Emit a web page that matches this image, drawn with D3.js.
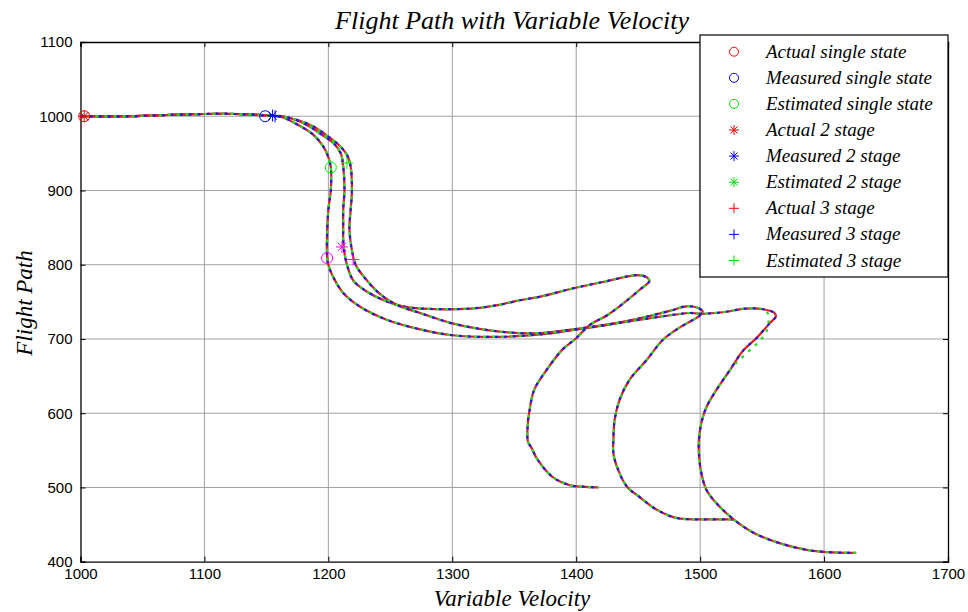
<!DOCTYPE html>
<html>
<head>
<meta charset="utf-8">
<script src="https://cdn.jsdelivr.net/npm/d3@7"></script>
<style>
  body { margin: 0; background: #fff; }
  svg { display: block; }
</style>
</head>
<body>
<svg id="chart" width="968" height="612"></svg>
<script>
// ---- axis ticks ----
const xTicks = [1000, 1100, 1200, 1300, 1400, 1500, 1600, 1700];
const yTicks = [400, 500, 600, 700, 800, 900, 1000, 1100];

// ---- trajectories (velocity, flight path) ----
const singleX = [1000,1040,1075,1100,1125,1150,1162,1177,1188,1196,1200,1202,1202,1200,1199,1199,1200,1204,1212,1226,1247,1274,1300,1341,1381,1397,1425,1452,1478,1489,1498,1502,1500,1484,1470,1457,1443,1435,1431,1430,1430,1434,1441,1452,1463,1475,1484,1505,1527];
const singleY = [1000,1000,1002,1003,1003,1001,999,987,975,959,945,931,901,874,843,810,800,783,762,743,726,713,705,703,708,712,719,728,739,744,742,737,732,716,699,672,645,618,591,564,546,523,501,486,472,462,458,457,457];

const stage2X = [1000,1040,1075,1100,1125,1150,1166,1183,1193,1204,1210,1212,1213,1212,1212,1212,1213,1215,1220,1230,1245,1260,1275,1315,1338,1354,1371,1397,1425,1449,1457,1459,1451,1438,1425,1411,1400,1389,1376,1366,1362,1361,1361,1364,1369,1381,1395,1405,1418];
const stage2Y = [1000,1000,1002,1003,1003,1001,999,988,977,964,950,932,901,874,851,833,816,800,779,765,752,744,741,741,746,752,757,768,778,786,783,778,766,748,732,719,701,686,658,631,600,587,562,553,537,514,503,501,500];

const stage3X = [1000,1040,1075,1100,1125,1150,1168,1186,1198,1208,1215,1218,1219,1218,1217,1218,1219,1222,1231,1242,1255,1274,1300,1338,1371,1411,1452,1492,1500,1518,1537,1551,1560,1561,1556,1546,1535,1524,1513,1505,1501,1499,1499,1501,1505,1513,1527,1543,1564,1586,1602,1626];
const stage3Y = [1000,1000,1002,1003,1003,1001,998,988,975,962,948,932,900,874,850,830,820,800,779,760,746,735,721,710,708,716,726,735,734,736,741,740,735,730,721,702,685,658,631,608,587,564,546,519,497,479,457,439,425,416,413,412];

// estimated 3 stage path drifts off near the turn at ~1560
const stage3EstX = [1000,1040,1075,1100,1125,1150,1168,1186,1198,1208,1215,1218,1219,1218,1217,1218,1219,1222,1231,1242,1255,1274,1300,1338,1371,1411,1452,1492,1500,1518,1537,1551,1555,1555,1553,1546,1537,1526,1513,1505,1501,1499,1499,1501,1505,1513,1527,1543,1564,1586,1602,1626];
const stage3EstY = [1000,1000,1002,1003,1003,1001,998,988,975,962,948,932,900,874,850,830,820,800,779,760,746,735,721,710,708,716,726,735,734,736,741,740,733,721,708,694,680,662,631,608,587,564,546,519,497,479,457,439,425,416,413,412];

// ---- start markers ----
const markX     = [1003, 1003, 1149, 1155, 1157, 1202, 1215, 1199, 1211, 1220];
const markY     = [1000, 1000, 1000, 1001, 1000, 931, 937, 809, 824, 807];
const markKind  = ['o', '*', 'o', '*', '+', 'o', '+', 'o', '*', '+'];
const markColor = ['#ff0000', '#ff0000', '#0000ff', '#0000ff', '#0000ff', '#00ee00', '#00ee00', '#ff00ff', '#ff00ff', '#ff00ff'];

// ---- legend ----
const legendLabels = ['Actual single state', 'Measured single state', 'Estimated single state',
                      'Actual 2 stage', 'Measured 2 stage', 'Estimated 2 stage',
                      'Actual 3 stage', 'Measured 3 stage', 'Estimated 3 stage'];
const legendKinds  = ['o', 'o', 'o', '*', '*', '*', '+', '+', '+'];
const legendColors = ['#ff0000', '#0000ff', '#00dd00', '#ff0000', '#0000ff', '#00dd00', '#ff0000', '#0000ff', '#00dd00'];

// ---- layout ----
const svg = d3.select('#chart');
const plotL = 80.5, plotR = 948, plotT = 42, plotB = 561.7;
const x = d3.scaleLinear().domain([1000, 1700]).range([plotL, plotR]);
const y = d3.scaleLinear().domain([400, 1100]).range([plotB, plotT]);

svg.append('rect').attr('width', 968).attr('height', 612).attr('fill', '#fff');

// grid
const grid = svg.append('g').attr('stroke', '#a0a0a0').attr('stroke-width', 1);
grid.selectAll('line.gx').data(xTicks.slice(1, -1)).join('line')
  .attr('x1', d => x(d)).attr('x2', d => x(d)).attr('y1', plotT).attr('y2', plotB);
grid.selectAll('line.gy').data(yTicks.slice(1, -1)).join('line')
  .attr('y1', d => y(d)).attr('y2', d => y(d)).attr('x1', plotL).attr('x2', plotR);

// axes with inward ticks
const tickFont = 'Liberation Sans, Arial, sans-serif';
const axB = svg.append('g').attr('transform', `translate(0,${plotB})`)
  .call(d3.axisBottom(x).tickValues(xTicks).tickSize(-5).tickPadding(7).tickFormat(d3.format('d')));
const axT = svg.append('g').attr('transform', `translate(0,${plotT})`)
  .call(d3.axisTop(x).tickValues(xTicks).tickSize(-5).tickFormat(''));
const axL = svg.append('g').attr('transform', `translate(${plotL},0)`)
  .call(d3.axisLeft(y).tickValues(yTicks).tickSize(-5).tickPadding(8).tickFormat(d3.format('d')));
const axR = svg.append('g').attr('transform', `translate(${plotR},0)`)
  .call(d3.axisRight(y).tickValues(yTicks).tickSize(-5).tickFormat(''));
[axB, axT, axL, axR].forEach(g => {
  g.select('.domain').attr('stroke', '#000').attr('stroke-width', 1.3);
  g.selectAll('.tick line').attr('stroke', '#000');
  g.selectAll('.tick text').attr('font-family', tickFont).attr('font-size', 15).attr('fill', '#000');
});

// trajectories: actual (red), measured (blue), estimated (green) interleaved
const line = d3.line().x(d => x(d[0])).y(d => y(d[1])).curve(d3.curveCatmullRom.alpha(0.5));
const zip = (xs, ys) => xs.map((v, i) => [v, ys[i]]);
const paths = [
  [zip(singleX, singleY), zip(singleX, singleY), zip(singleX, singleY)],
  [zip(stage2X, stage2Y), zip(stage2X, stage2Y), zip(stage2X, stage2Y)],
  [zip(stage3X, stage3Y), zip(stage3X, stage3Y), zip(stage3EstX, stage3EstY)]
];
const plot = svg.append('g').attr('fill', 'none').attr('stroke-width', 2.2);
paths.forEach(([act, meas, est]) => {
  plot.append('path').attr('d', line(act)).attr('stroke', '#e8141e');
  plot.append('path').attr('d', line(meas)).attr('stroke', '#1a1ae6').attr('stroke-dasharray', '3,6');
  plot.append('path').attr('d', line(est)).attr('stroke', '#22dd22').attr('stroke-dasharray', '3,6').attr('stroke-dashoffset', 3);
});

// marker glyph drawer
function glyph(g, kind, cx, cy, color, r) {
  if (kind === 'o') {
    g.append('circle').attr('cx', cx).attr('cy', cy).attr('r', r).attr('fill', 'none').attr('stroke', color).attr('stroke-width', 1);
  } else {
    const segs = [[-r, 0, r, 0], [0, -r, 0, r]];
    if (kind === '*') {
      const k = r * 0.7;
      segs.push([-k, -k, k, k], [-k, k, k, -k]);
    }
    segs.forEach(s => g.append('line')
      .attr('x1', cx + s[0]).attr('y1', cy + s[1]).attr('x2', cx + s[2]).attr('y2', cy + s[3])
      .attr('stroke', color).attr('stroke-width', 1));
  }
}

const marks = svg.append('g');
markX.forEach((mx, i) => glyph(marks, markKind[i], x(mx), y(markY[i]), markColor[i], markKind[i] === 'o' ? 5.5 : 6));

// legend
const serif = 'Liberation Serif, Times New Roman, serif';
const lg = svg.append('g');
lg.append('rect').attr('x', 700).attr('y', 35).attr('width', 248).attr('height', 242)
  .attr('fill', '#fff').attr('stroke', '#000').attr('stroke-width', 1.2);
legendLabels.forEach((lab, i) => {
  const cy = 51.7 + i * 26.1;
  glyph(lg, legendKinds[i], 734, cy, legendColors[i], legendKinds[i] === 'o' ? 4.5 : 5);
  lg.append('text').attr('x', 766).attr('y', cy + 6)
    .attr('font-family', serif).attr('font-style', 'italic')
    .attr('font-size', 19).attr('fill', '#000').text(lab);
});

// titles
svg.append('text').attr('x', 512).attr('y', 29).attr('text-anchor', 'middle')
  .attr('font-family', serif).attr('font-style', 'italic').attr('font-size', 26).text('Flight Path with Variable Velocity');
svg.append('text').attr('x', 512).attr('y', 606).attr('text-anchor', 'middle')
  .attr('font-family', serif).attr('font-style', 'italic').attr('font-size', 23).text('Variable Velocity');
svg.append('text').attr('transform', 'translate(32,303) rotate(-90)').attr('text-anchor', 'middle')
  .attr('font-family', serif).attr('font-style', 'italic').attr('font-size', 23).text('Flight Path');
</script>
</body>
</html>
